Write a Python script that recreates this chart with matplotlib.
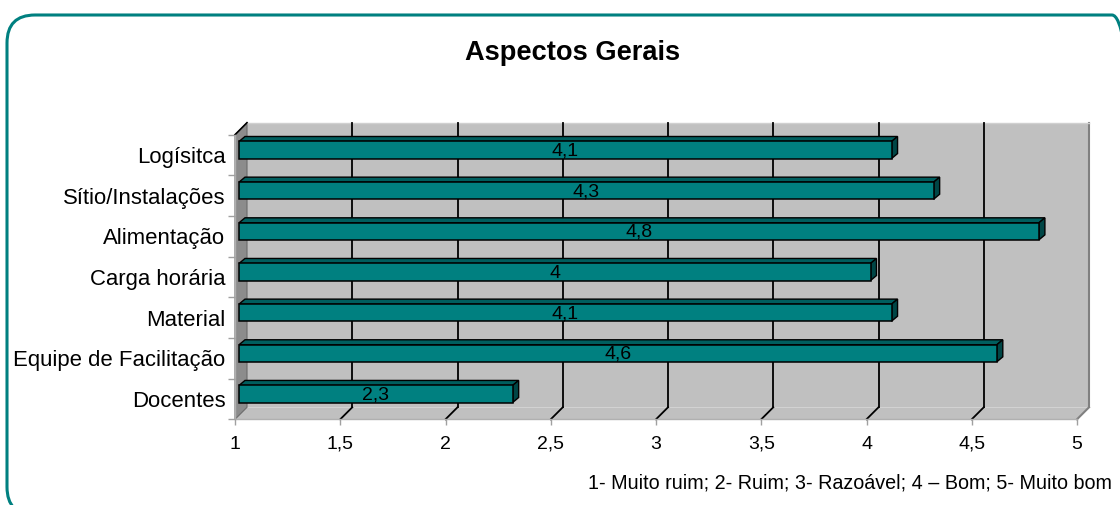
import matplotlib
matplotlib.use('Agg')
import matplotlib.pyplot as plt
import numpy as np
from matplotlib.patches import Rectangle, Polygon, FancyBboxPatch
from matplotlib.transforms import ScaledTranslation

plt.rcParams['font.family'] = ['Liberation Sans', 'DejaVu Sans']

# Data (bottom to top, as drawn)
categories = ['Docentes', 'Equipe de Facilitação', 'Material', 'Carga horária',
              'Alimentação', 'Sítio/Instalações', 'Logísitca']
scores = [2.3, 4.6, 4.1, 4.0, 4.8, 4.3, 4.1]
x_ticks = [1, 1.5, 2, 2.5, 3, 3.5, 4, 4.5, 5]
x_tick_labels = ['1', '1,5', '2', '2,5', '3', '3,5', '4', '4,5', '5']
title = 'Aspectos Gerais'
footnote = '1- Muito ruim; 2- Ruim; 3- Razoável; 4 – Bom; 5- Muito bom'

TEAL = '#008080'
W, H = 1120, 505

fig = plt.figure(figsize=(W / 100, H / 100), dpi=100)
fig.patch.set_facecolor('white')

# rounded teal frame (right and bottom run off the picture)
frame = FancyBboxPatch((0.07, -0.10), 11.33, 5.0,
                       boxstyle='round,pad=0,rounding_size=0.28',
                       transform=fig.dpi_scale_trans, fill=False,
                       edgecolor=TEAL, linewidth=2.2)
fig.add_artist(frame)

# axes = front plane of the 3D box
ax = fig.add_axes([235 / W, 1 - 419.3 / H, 842 / W, (419.3 - 134.7) / H])
ax.set_xlim(1, 5)
ax.set_ylim(-0.5, len(categories) - 0.5)
ax.patch.set_visible(False)


def shift(dx, dy):
    return ScaledTranslation(dx / 100, dy / 100, fig.dpi_scale_trans)


depth = 12  # px depth of the box
back = shift(depth, depth)
fx = depth / ax.bbox.width
fy = depth / ax.bbox.height

# back wall
ax.add_patch(Rectangle((0, 0), 1, 1, transform=ax.transAxes + back,
                       facecolor='#c0c0c0', edgecolor='none', zorder=0.5,
                       clip_on=False))
ax.plot([1, 1], [0, 1], transform=ax.transAxes + back, color='#808080',
        lw=1.5, zorder=0.7, clip_on=False)
ax.plot([0, 1], [1, 1], transform=ax.transAxes + back, color='#d0d0d0',
        lw=1, zorder=0.7, clip_on=False)

# floor
ax.add_patch(Polygon([(0, 0), (1, 0), (1 + fx, fy), (fx, fy)], closed=True,
                     transform=ax.transAxes, facecolor='#c0c0c0',
                     edgecolor='none', zorder=0.6, clip_on=False))
ax.plot([1, 1 + fx], [0, fy], transform=ax.transAxes, color='#808080',
        lw=1.5, zorder=0.7, clip_on=False)

# left wall
ax.add_patch(Polygon([(0, 0), (fx, fy), (fx, 1 + fy), (0, 1)], closed=True,
                     transform=ax.transAxes, facecolor='#8c8c8c',
                     edgecolor='#6a6a6a', lw=0.8, zorder=0.6, clip_on=False))
ax.plot([0, fx], [1, 1 + fy], transform=ax.transAxes, color='black',
        lw=1.2, zorder=0.8, clip_on=False)

# gridlines on back wall and floor
x0, x1 = ax.get_xlim()
for x in x_ticks[1:-1]:
    ax.plot([x, x], [0, 1], transform=ax.get_xaxis_transform() + back,
            color='black', lw=1.3, zorder=0.8, clip_on=False)
    xa = (x - x0) / (x1 - x0)
    ax.plot([xa, xa + fx], [0, fy], transform=ax.transAxes,
            color='black', lw=1.3, zorder=0.8, clip_on=False)

# bars with 3D faces
bar_h = 0.42
bar_off = shift(4, 5)
dxd = 6 / (ax.bbox.width / (x1 - x0))
dyd = 5 / (ax.bbox.height / len(categories))
bars = ax.barh(range(len(categories)), [v - 1 for v in scores], left=1,
               height=bar_h, color=TEAL, edgecolor='black', linewidth=1.1,
               zorder=3)
for i, (b, v) in enumerate(zip(bars, scores)):
    b.set_transform(ax.transData + bar_off)
    b.set_clip_on(False)
    yt, yb = i + bar_h / 2, i - bar_h / 2
    ax.add_patch(Polygon([(1, yt), (v, yt), (v + dxd, yt + dyd), (1 + dxd, yt + dyd)],
                         closed=True, transform=ax.transData + bar_off,
                         facecolor='#005e5e', edgecolor='black', lw=1.0,
                         zorder=2.9, clip_on=False))
    ax.add_patch(Polygon([(v, yb), (v, yt), (v + dxd, yt + dyd), (v + dxd, yb + dyd)],
                         closed=True, transform=ax.transData + bar_off,
                         facecolor='#004646', edgecolor='black', lw=1.0,
                         zorder=2.9, clip_on=False))
    ax.text((1 + v) / 2, i, f'{v:g}'.replace('.', ','), ha='center',
            va='center', fontsize=14, color='black', zorder=5,
            transform=ax.transData + shift(4, 4))

# axes styling
for s in ['top', 'right']:
    ax.spines[s].set_visible(False)
for s in ['left', 'bottom']:
    ax.spines[s].set_color('#b0b0b0')
    ax.spines[s].set_linewidth(1)
    ax.spines[s].set_zorder(0.9)

ax.set_yticks(range(len(categories)), categories)
ax.set_yticks(np.arange(-0.5, len(categories), 1), minor=True)
ax.tick_params(axis='y', which='major', length=0, pad=7, labelsize=15.9)
ax.tick_params(axis='y', which='minor', length=5, color='#a0a0a0', width=1)
ax.set_xticks(x_ticks, x_tick_labels)
ax.tick_params(axis='x', length=4, color='#a0a0a0', width=1, pad=8,
               labelsize=14)

fig.text(573 / W, 1 - 53 / H, title, ha='center', va='center',
         fontsize=19.6, fontweight='bold')
fig.text(1112 / W, 1 - 483 / H, footnote, ha='right', va='center',
         fontsize=14.2)

fig.savefig('out.png', dpi=100)
